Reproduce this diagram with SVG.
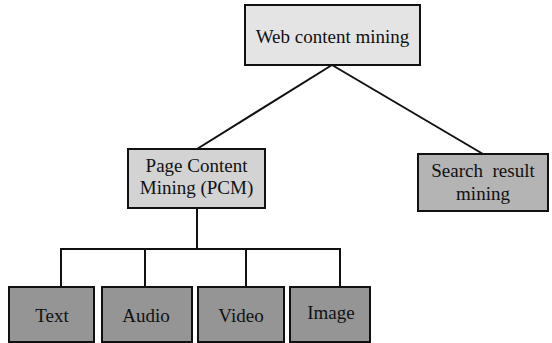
<svg xmlns="http://www.w3.org/2000/svg" width="552" height="343" viewBox="0 0 552 343">
<style>
.box{stroke:#111;stroke-width:2}
.t{font-family:"Liberation Serif","Times New Roman",serif;font-size:19px;fill:#111;text-anchor:middle}
.c{stroke:#111;stroke-width:2;fill:none}
</style>
<rect width="552" height="343" fill="#fff"/>
<g id="connectors">
<line class="c" x1="332" y1="65" x2="197" y2="149"/>
<line class="c" x1="332" y1="65" x2="483" y2="154"/>
<line class="c" x1="197" y1="208" x2="197" y2="249"/>
<polyline class="c" points="61,287 61,249 340,249 340,287"/>
<line class="c" x1="145" y1="249" x2="145" y2="287"/>
<line class="c" x1="246" y1="249" x2="246" y2="287"/>
</g>
<g id="web-content-mining">
<rect class="box" x="245" y="5" width="175" height="60" fill="#e4e4e4"/>
<text class="t" x="332.5" y="43">Web content mining</text>
</g>
<g id="pcm">
<rect class="box" x="128" y="149" width="137" height="59" fill="#d3d3d3"/>
<text class="t" x="196.5" y="172">Page Content</text>
<text class="t" x="196.5" y="194">Mining (PCM)</text>
</g>
<g id="search-result-mining">
<rect class="box" x="418" y="154" width="130" height="57" fill="#b4b4b4"/>
<text class="t" x="483" y="177" xml:space="preserve">Search  result</text>
<text class="t" x="483" y="200">mining</text>
</g>
<g id="text">
<rect class="box" x="9" y="287" width="85" height="55" fill="#959595"/>
<text class="t" x="52" y="322">Text</text>
</g>
<g id="audio">
<rect class="box" x="102" y="287" width="90" height="55" fill="#959595"/>
<text class="t" x="146" y="322">Audio</text>
</g>
<g id="video">
<rect class="box" x="198" y="287" width="86" height="55" fill="#959595"/>
<text class="t" x="241" y="322">Video</text>
</g>
<g id="image">
<rect class="box" x="290" y="287" width="80" height="55" fill="#959595"/>
<text class="t" x="331" y="319">Image</text>
</g>
</svg>
